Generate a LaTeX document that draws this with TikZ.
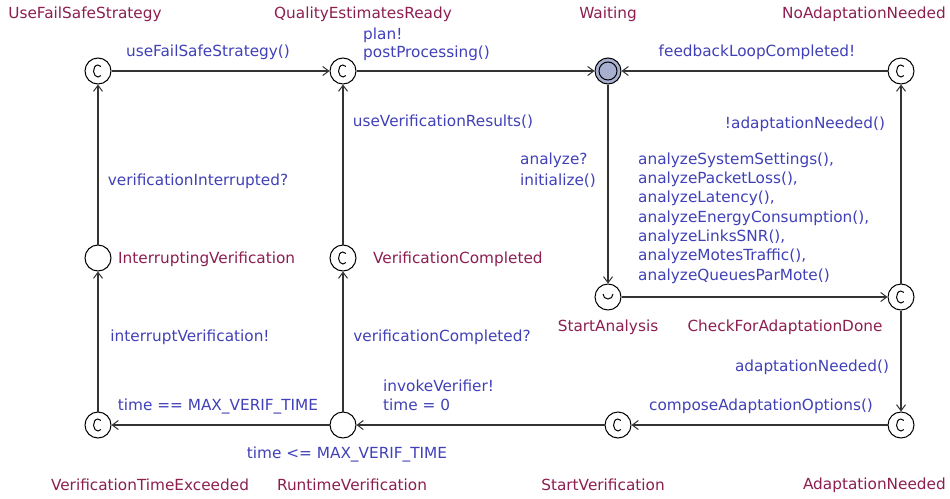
\documentclass[tikz,border=0pt]{standalone}
\usepackage{fontspec}
\setmainfont{DejaVu Sans}
\usetikzlibrary{arrows.meta}
\definecolor{lblue}{RGB}{64,64,184}
\definecolor{lname}{RGB}{140,30,80}
\definecolor{wfill}{RGB}{168,176,208}
\begin{document}
\begin{tikzpicture}[x=1pt,y=-1pt,
  loc/.style={circle,draw,line width=1pt,minimum size=26pt,inner sep=0pt,fill=white},
  comm/.style={loc},
  cmark/.style={draw=black,line width=1pt},
  edge/.style={draw=black!80,line width=1.2pt,-{Straight Barb[length=6pt,width=9pt,line width=1pt]}},
  lab/.style={text=lblue,font=\fontsize{15.3}{19.3}\selectfont,inner sep=0pt,align=left},
  nm/.style={text=lname,font=\fontsize{15.3}{19}\selectfont,inner sep=0pt}]
\useasboundingbox (0,0) rectangle (950,498);
% locations
\node[comm] (ufs) at (98,71) {};
\node[comm] (qer) at (343,71) {};
\node[loc,fill=wfill,line width=1pt] (wait) at (608,71) {};
\node[circle,draw,line width=1pt,minimum size=18pt,inner sep=0pt] at (wait) {};
\node[comm] (nan) at (901,71) {};
\node[loc] (iv) at (98,258) {};
\node[comm] (vc) at (343,258) {};
\node[loc] (sa) at (608,297) {};
\draw[cmark] (603,294) arc[start angle=180,end angle=360,radius=5pt];
\node[comm] (cfa) at (901,297) {};
\node[comm] (vte) at (98,425) {};
\node[loc] (rv) at (343,425) {};
\node[comm] (sv) at (618,425) {};
\node[comm] (an) at (901,425) {};
\foreach \n in {ufs,qer,nan,vc,cfa,vte,sv,an}
  \draw[cmark] ([shift={(2.9pt,4.6pt)}]\n.center) arc[start angle=50,end angle=310,x radius=4.5pt,y radius=6pt];
% names
\node[nm] at (85,14) {UseFailSafeStrategy};
\node[nm] at (363,14) {QualityEstimatesReady};
\node[nm] at (608,14) {Waiting};
\node[nm,anchor=east] at (946,14) {NoAdaptationNeeded};
\node[nm,anchor=west] at (118,259) {InterruptingVerification};
\node[nm,anchor=west] at (373,259) {VerificationCompleted};
\node[nm] at (608,327) {StartAnalysis};
\node[nm] at (785,327) {CheckForAdaptationDone};
\node[nm] at (150,485) {VerificationTimeExceeded};
\node[nm] at (352,485) {RuntimeVerification};
\node[nm] at (603,485) {StartVerification};
\node[nm,anchor=east] at (946,485) {AdaptationNeeded};
% edges
\draw[edge] (ufs) -- (qer);
\draw[edge] (qer) -- (wait);
\draw[edge] (nan) -- (wait);
\draw[edge] (wait) -- (sa);
\draw[edge] (sa) -- (cfa);
\draw[edge] (cfa) -- (nan);
\draw[edge] (cfa) -- (an);
\draw[edge] (an) -- (sv);
\draw[edge] (sv) -- (rv);
\draw[edge] (rv) -- (vte);
\draw[edge] (rv) -- (vc);
\draw[edge] (vc) -- (qer);
\draw[edge] (vte) -- (iv);
\draw[edge] (iv) -- (ufs);
% labels
\node[lab] at (208,52) {useFailSafeStrategy()};
\node[lab,anchor=west,font=\fontsize{15.3}{18}\selectfont] at (363,44) {plan!\\postProcessing()};
\node[lab] at (757,52) {feedbackLoopCompleted!};
\node[lab,anchor=west,font=\fontsize{15.3}{21}\selectfont] at (520,170.5) {analyze?\\initialize()};
\node[lab,anchor=west] at (638,218) {analyzeSystemSettings(),\\analyzePacketLoss(),\\analyzeLatency(),\\analyzeEnergyConsumption(),\\analyzeLinksSNR(),\\analyzeMotesTraffic(),\\analyzeQueuesParMote()};
\node[lab] at (805,124) {!adaptationNeeded()};
\node[lab] at (812,367) {adaptationNeeded()};
\node[lab] at (761,406) {composeAdaptationOptions()};
\node[lab,anchor=west] at (383,395.5) {invokeVerifier!\\time = 0};
\node[lab] at (218,406) {time == MAX\_VERIF\_TIME};
\node[lab] at (347,454) {time <= MAX\_VERIF\_TIME};
\node[lab] at (442,337) {verificationCompleted?};
\node[lab] at (443,122) {useVerificationResults()};
\node[lab] at (190,337) {interruptVerification!};
\node[lab] at (198,181) {verificationInterrupted?};
\end{tikzpicture}
\end{document}
